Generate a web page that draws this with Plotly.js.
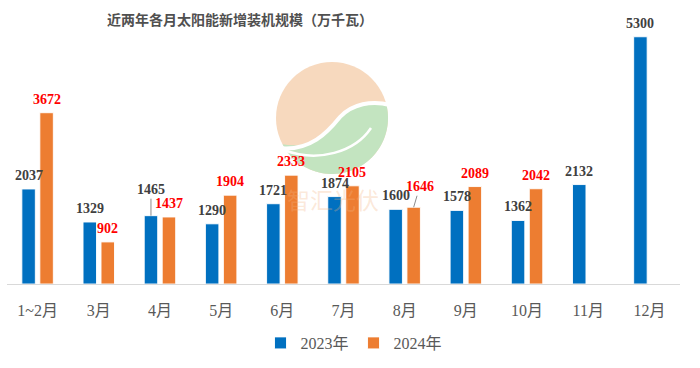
<!DOCTYPE html>
<html>
<head>
<meta charset="utf-8">
<script src="https://cdn.plot.ly/plotly-3.0.1.min.js"></script>
<style>html,body{margin:0;padding:0;background:#fff;}#chart{width:700px;height:368px;}</style>
</head>
<body>
<div id="chart"></div>
<script>
// ---- data ----
const categories = ['1~2月','3月','4月','5月','6月','7月','8月','9月','10月','11月','12月'];
const values2023 = [2037,1329,1465,1290,1721,1874,1600,1578,1362,2132,5300];
const values2024 = [3672,902,1437,1904,2333,2105,1646,2089,2042,null,null];
const seriesNames = ['2023年','2024年'];
const chartTitle = '近两年各月太阳能新增装机规模（万千瓦）';
const watermarkText = '智汇光伏';

// ---- style / layout constants ----
const W = 700, Hgt = 368;
const M = {l:7, r:20, t:30, b:84};
const plotW = W - M.l - M.r, plotH = Hgt - M.t - M.b;
const bargap = 0.412, bargroupgap = 0.25;
const catW = plotW / categories.length;
const slotOffset = catW * (1 - bargap) / 4; // centre offset of each bar in group
const colors = ['#0070C0', '#ED7D31'];
const labelColors = ['#404040', '#FF0000'];
const serif = '"Liberation Serif", "Times New Roman", Times, serif';
const serifCJK = '"Liberation Serif", "Times New Roman", Times, "Noto Sans CJK SC", serif';
// labels that were moved off their bar with a leader line: {series, index, ax, ay}
const leaderLabels = [{s:0, i:2, ax:0, ay:-26}, {s:1, i:6, ax:6, ay:-20.5}];

const traces = [values2023, values2024].map((vals, s) => ({
  type: 'bar',
  name: seriesNames[s],
  x: categories,
  y: vals,
  marker: {color: colors[s], line: {color: 'rgba(255,255,255,0.9)', width: 1}},
  hoverinfo: 'skip'
}));

const annotations = [];
[values2023, values2024].forEach((vals, s) => {
  const xshift = (s === 0 ? -1 : 1) * slotOffset;
  vals.forEach((v, i) => {
    if (v === null) return;
    const lead = leaderLabels.find(l => l.s === s && l.i === i);
    const base = {
      x: categories[i], y: v, xref: 'x', yref: 'y',
      text: '<b>' + String(v) + '</b>', xshift: xshift,
      font: {family: serif, size: 14, color: labelColors[s]}
    };
    if (lead) {
      Object.assign(base, {showarrow: true, arrowhead: 0, arrowwidth: 1,
        arrowcolor: '#8c8c8c', ax: lead.ax, ay: lead.ay, standoff: 0});
    } else {
      Object.assign(base, {showarrow: false, yanchor: 'bottom', xanchor: 'center', yshift: 4});
    }
    annotations.push(base);
  });
});

// watermark text
const px = x => (x - M.l) / plotW;
const py = y => (M.t + plotH - y) / plotH;
annotations.push({
  xref: 'paper', yref: 'paper', x: px(333), y: py(199), showarrow: false,
  text: watermarkText, xanchor: 'center', yanchor: 'middle',
  font: {family: 'Noto Sans CJK SC', size: 23, color: 'rgba(244,180,130,0.3)'}
});

// watermark logo shapes (decorative)
const cx = 332, cy = 118, r = 56;
const P = (x, y) => px(x).toFixed(5) + ',' + py(y).toFixed(5);
let green = 'M ' + P(cx + r*Math.cos(-13*Math.PI/180), cy + r*Math.sin(-13*Math.PI/180));
for (let a = -10; a <= 152; a += 3) {
  green += ' L ' + P(cx + r*Math.cos(a*Math.PI/180), cy + r*Math.sin(a*Math.PI/180));
}
green += ' C ' + P(310,150) + ' ' + P(328,132) + ' ' + P(340,117);
green += ' C ' + P(352,104) + ' ' + P(372,100) + ' ' + P(388,105) + ' Z';
const sCurve = 'M ' + P(278,148) + ' C ' + P(310,152) + ' ' + P(328,132) + ' ' + P(340,117)
  + ' C ' + P(352,104) + ' ' + P(372,100) + ' ' + P(390,105);
const swoosh = 'M ' + P(284,150) + ' C ' + P(318,163) + ' ' + P(355,152) + ' ' + P(371,128);

const shapes = [
  {type: 'circle', xref: 'paper', yref: 'paper', x0: px(cx - r), x1: px(cx + r),
   y0: py(cy + r), y1: py(cy - r), fillcolor: '#F7D9BE', line: {width: 0}, layer: 'below'},
  {type: 'path', xref: 'paper', yref: 'paper', path: green, fillcolor: '#C3E4C0',
   line: {width: 0}, layer: 'below'},
  {type: 'path', xref: 'paper', yref: 'paper', path: sCurve, line: {color: '#ffffff', width: 4}, layer: 'below'},
  {type: 'path', xref: 'paper', yref: 'paper', path: swoosh, line: {color: '#ffffff', width: 2.5}, layer: 'below'}
];

const layout = {
  width: W, height: Hgt,
  margin: M,
  paper_bgcolor: '#ffffff', plot_bgcolor: 'rgba(0,0,0,0)',
  barmode: 'group', bargap: bargap, bargroupgap: bargroupgap,
  title: {
    text: '<b>' + chartTitle + '</b>', xref: 'container', yref: 'container',
    x: 240 / W, xanchor: 'center', y: 1 - 20 / Hgt, yanchor: 'middle',
    font: {family: '"Noto Sans CJK SC"', size: 14, color: '#505050'}
  },
  xaxis: {
    type: 'category', range: [-0.5, categories.length - 0.5],
    showline: true, linecolor: '#D9D9D9', linewidth: 1,
    ticks: '', showgrid: false, zeroline: false,
    ticklabelstandoff: 12,
    tickfont: {family: serifCJK, size: 16, color: '#595959'},
    fixedrange: true
  },
  yaxis: {
    range: [0, 5445], visible: false, showgrid: false, zeroline: false, fixedrange: true
  },
  showlegend: true,
  legend: {
    orientation: 'h', x: (354 - M.l) / plotW, xanchor: 'center',
    y: (M.t + plotH - 343) / plotH, yanchor: 'middle',
    font: {family: serifCJK, size: 16, color: '#595959'},
    itemwidth: 30, traceorder: 'normal'
  },
  annotations: annotations,
  shapes: shapes,
  hovermode: false
};

Plotly.newPlot('chart', traces, layout, {staticPlot: true, displayModeBar: false});
</script>
</body>
</html>
